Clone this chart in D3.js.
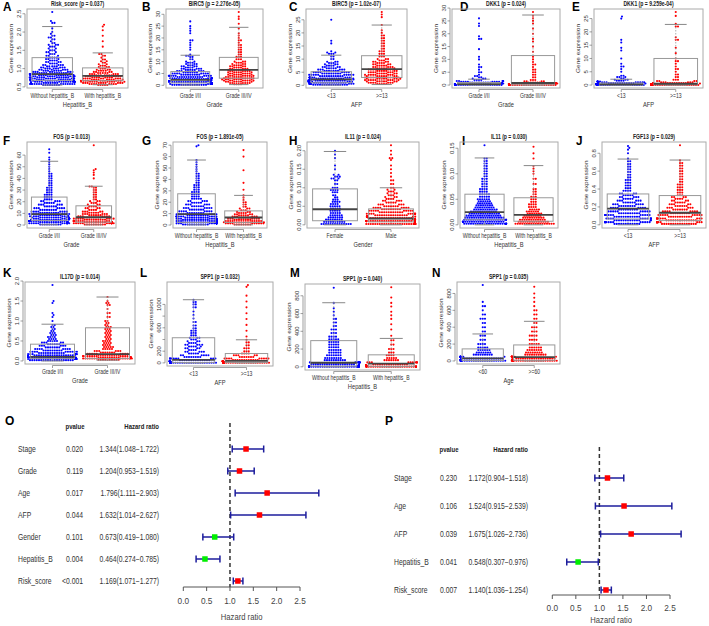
<!DOCTYPE html>
<html><head><meta charset="utf-8">
<script src="https://cdn.jsdelivr.net/npm/d3@7"></script>
<style>body{margin:0;background:#fff}svg{display:block}</style>
</head><body>
<script>
// ---------------- DATA ----------------
const panelIds = ["A","B","C","D","E","F","G","H","I","J","K","L","M","N"];
const panelTitles = ["Risk_score (p = 0.037)","BIRC5 (p = 2.276e-05)","BIRC5 (p = 1.02e-07)","DKK1 (p = 0.024)","DKK1 (p = 9.259e-04)",
  "FOS (p = 0.013)","FOS (p = 1.891e-05)","IL11 (p = 0.024)","IL11 (p = 0.030)","FGF13 (p = 0.029)",
  "IL17D (p = 0.014)","SPP1 (p = 0.032)","SPP1 (p = 0.040)","SPP1 (p = 0.035)"];
const panelXLabels = ["Hepatitis_B","Grade","AFP","Grade","AFP","Grade","Hepatitis_B","Gender","Hepatitis_B","AFP","Grade","AFP","Hepatitis_B","Age"];
const HB = ["Without hepatitis_B","With hepatitis_B"], GR = ["Grade I/II","Grade III/IV"], AF = ["<13",">=13"];
const panelGroups = [HB,GR,AF,GR,AF,GR,HB,["Female","Male"],HB,AF,GR,AF,HB,["<60",">=60"]];
const panelYTicks = [[0.5,1,1.5,2,2.5],[0,5,10,15,20,25,30],[0,5,10,15,20,25],[0,5,10,15,20,25,30],[0,5,10,15,20,25],
  [0,10,20,30,40,50,60],[0,10,20,30,40,50,60,70],[0,0.05,0.1,0.15,0.2],[0,0.05,0.1,0.15],[0,0.2,0.4,0.6,0.8],
  [0,0.5,1,1.5,2],[0,200,400,600,800,1000],[0,200,400,600,800],[0,200,400,600,800]];
// tick labels that R drew (some are dropped where they would overlap)
const panelYTickLabels = [null,null,null,null,null,null,null,null,null,null,null,[0,200,600,1000],null,null];
const panelYFormat = [".1f","d","d","d","d","d","d",".2f",".2f",".1f",".1f","d","d","d"];
// box stats per group: [lower whisker, q1, median, q3, upper whisker]
const panelBoxStats = [
  [[0.55,0.68,0.85,1.3,2.15],[0.56,0.67,0.8,1.02,1.43]],
  [[0.1,1.0,2.3,5.8,12.7],[0.3,3.0,6.5,11.8,24.5]],
  [[0.1,1.0,2.3,5.2,11.5],[0.3,3.0,6.2,11.3,23]],
  [[0,0.1,0.35,1.0,2.3],[0,0.1,0.8,11.5,27.3]],
  [[0,0.05,0.3,0.8,2.2],[0,0.1,0.5,10,22.8]],
  [[0.3,4,9.3,24,54.7],[0.2,2.5,6.7,16.5,33.3]],
  [[0.2,2.3,9.5,27.4,57],[0.2,2.3,6.6,12.4,26]],
  [[0,0.011,0.042,0.097,0.198],[0,0.008,0.017,0.043,0.1]],
  [[0,0.01,0.025,0.06,0.131],[0,0.007,0.0196,0.053,0.116]],
  [[0,0.065,0.18,0.345,0.735],[0,0.047,0.135,0.327,0.724]],
  [[0,0.06,0.1,0.42,0.92],[0.02,0.06,0.17,0.83,1.6]],
  [[0,5,50,430,1080],[0,5,35,160,395]],
  [[0,7,46,295,722],[0,5,36,135,320]],
  [[0,5,30,143,320],[0,8,45,190,470]]
];
// dot values as [value, count]
const A_blue=[[0.55,8],[0.58,14],[0.61,18],[0.64,18],[0.67,16],[0.70,14],[0.73,12],[0.76,12],[0.79,12],[0.82,14],[0.85,14],[0.88,10],[0.91,8],[0.94,7],[0.97,6],[1.0,6],[1.03,5],[1.06,5],[1.1,5],[1.14,4],[1.18,4],[1.22,4],[1.26,3],[1.3,4],[1.35,3],[1.4,3],[1.45,3],[1.5,3],[1.55,2],[1.6,3],[1.65,3],[1.7,2],[1.75,1],[1.8,2],[1.85,2],[1.9,2],[1.95,1],[2.0,1],[2.1,1],[2.25,2],[2.3,1],[2.55,1]];
const A_red=[[0.55,5],[0.58,8],[0.61,10],[0.64,10],[0.67,10],[0.70,9],[0.73,9],[0.76,8],[0.79,8],[0.82,7],[0.85,6],[0.88,5],[0.91,4],[0.94,4],[0.97,3],[1.0,3],[1.04,3],[1.08,3],[1.12,2],[1.16,2],[1.2,2],[1.25,2],[1.3,1],[1.35,2],[1.4,2],[1.6,1],[1.75,1],[1.9,1],[2.05,1],[2.15,1],[2.2,1]];
const B_blue=[[0.2,16],[0.6,20],[1.0,22],[1.4,20],[1.8,18],[2.2,16],[2.6,14],[3.0,12],[3.5,12],[4,10],[4.5,9],[5,8],[5.5,7],[6,6],[6.5,5],[7,5],[7.5,4],[8,4],[8.5,3],[9,3],[9.5,3],[10,2],[11,2],[12,2],[12.5,2],[13,1],[15,1],[16,1],[17,1],[18,1],[19,2],[22,1],[23,1],[24,1],[25,1],[27,1]];
const B_red=[[0.5,4],[1,6],[1.5,7],[2,8],[2.5,8],[3,8],[3.5,7],[4,7],[4.5,6],[5,6],[5.5,6],[6,6],[6.5,5],[7,5],[7.5,4],[8,4],[8.5,4],[9,3],[9.5,3],[10,3],[11,3],[12,3],[13,2],[14,2],[15,2],[16,2],[17,2],[18,1],[19,2],[20,1],[21,1],[22,1],[24,1],[26,1],[28,1],[29,1],[31,1]];
const C_blue=[[0.2,16],[0.6,20],[1.0,22],[1.4,20],[1.8,18],[2.2,16],[2.6,14],[3,12],[3.5,11],[4,10],[4.5,9],[5,8],[5.5,7],[6,6],[6.5,5],[7,4],[7.5,4],[8,3],[8.5,3],[9,3],[10,2],[11,2],[12,3],[12.5,2],[13,1],[16,1],[17,1],[25,1]];
const C_red=[[0.5,5],[1,7],[1.5,8],[2,9],[2.5,9],[3,9],[3.5,8],[4,8],[4.5,7],[5,7],[5.5,7],[6,7],[6.5,6],[7,5],[7.5,5],[8,4],[8.5,4],[9,4],[9.5,3],[10,3],[11,3],[12,3],[13,3],[14,2],[15,2],[16,2],[17,2],[18,2],[19,2],[20,1],[21,1],[23,1],[26,1],[27,1],[28,1]];
const D_blue=[[0.05,40],[0.2,40],[0.4,30],[0.6,20],[0.8,14],[1,10],[1.3,8],[1.6,6],[2,4],[2.5,3],[3,2],[3.5,2],[4,1],[5,2],[6,1],[7,2],[8,1],[10,1],[11,1],[14,1],[18,2],[19,1],[23,1],[24,1],[26,1]];
const D_red=[[0.05,25],[0.2,25],[0.4,18],[0.6,12],[0.8,8],[1,6],[1.5,4],[2,3],[3,2],[4,2],[5,2],[6,2],[7,1],[8,2],[9,1],[10,1],[11,1],[13,1],[15,1],[17,1],[18,1],[20,1],[22,1],[24,1],[25,1],[26,1],[27,1],[28.5,1]];
const E_blue=[[0.05,40],[0.2,40],[0.4,28],[0.6,18],[0.8,12],[1,8],[1.3,6],[1.6,4],[2,3],[2.5,2],[3,3],[3.5,2],[5,1],[6,1],[7,2],[8,1],[10,1],[13,1],[14,1],[16,1],[17,1],[25,1],[25.8,1]];
const E_red=[[0.05,30],[0.2,30],[0.4,20],[0.6,14],[0.8,9],[1,6],[1.5,4],[2,3],[3,2],[4,2],[5,1],[6,2],[7,1],[8,1],[9,2],[10,1],[12,1],[14,1],[17,2],[18,1],[22,2],[23,1],[26,1],[27.5,1]];
const F_blue=[[0.5,10],[1.5,14],[2.5,16],[3.5,16],[4.5,14],[5.5,13],[6.5,12],[7.5,11],[8.5,10],[9.5,10],[10.5,9],[11.5,8],[13,8],[14.5,7],[16,6],[17.5,6],[19,5],[20.5,5],[22,4],[24,4],[26,4],[28,3],[30,3],[32,3],[34,2],[36,2],[38,2],[40,2],[42,2],[44,2],[46,1],[48,1],[50,1],[52,1],[54,1],[56,1],[58,1],[62,1],[65,1]];
const F_red=[[0.5,10],[1.5,14],[2.5,14],[3.5,12],[4.5,10],[5.5,9],[6.5,8],[7.5,7],[8.5,6],[9.5,6],[10.5,5],[11.5,5],[13,4],[14.5,4],[16,4],[17.5,3],[19,3],[20.5,3],[22,2],[24,2],[26,2],[28,2],[30,2],[32,2],[33,2],[40,1],[43,1],[45,1],[47,1],[48,1],[68.5,1]];
const G_blue=[[0.5,12],[1.5,16],[2.5,16],[3.5,15],[4.5,13],[5.5,12],[6.5,11],[7.5,10],[8.5,10],[9.5,9],[10.5,8],[12,8],[13.5,7],[15,7],[16.5,6],[18,6],[19.5,5],[21,5],[23,5],[25,4],[27,4],[29,4],[31,3],[33,3],[35,3],[37,2],[39,2],[41,2],[43,2],[45,2],[47,1],[49,1],[51,1],[53,1],[55,1],[57,1],[69,1],[70,1]];
const G_red=[[0.5,8],[1.5,10],[2.5,10],[3.5,9],[4.5,8],[5.5,7],[6.5,6],[7.5,6],[8.5,5],[9.5,4],[10.5,4],[11.5,3],[13,3],[14.5,3],[16,2],[18,2],[20,2],[22,1],[24,1],[26,1],[31,1],[37,1],[48,1],[60,1],[65.7,1]];
const H_blue=[[0.002,14],[0.008,10],[0.014,8],[0.02,7],[0.026,6],[0.032,5],[0.038,5],[0.044,5],[0.05,5],[0.056,4],[0.062,4],[0.068,3],[0.074,2],[0.08,2],[0.088,3],[0.094,4],[0.1,3],[0.11,2],[0.12,2],[0.125,3],[0.13,3],[0.135,2],[0.15,1],[0.16,1],[0.18,1],[0.19,1],[0.2,1]];
const H_red=[[0.002,30],[0.006,28],[0.01,26],[0.014,22],[0.018,20],[0.022,18],[0.026,15],[0.03,13],[0.034,11],[0.038,10],[0.042,9],[0.046,8],[0.05,7],[0.055,6],[0.06,5],[0.065,5],[0.07,4],[0.075,3],[0.08,3],[0.085,3],[0.09,3],[0.095,2],[0.1,2],[0.11,2],[0.12,2],[0.13,1],[0.14,1],[0.15,1],[0.16,1],[0.175,1],[0.18,2],[0.19,1],[0.2,1],[0.215,1]];
const I_blue=[[0.002,28],[0.006,24],[0.01,22],[0.014,18],[0.018,16],[0.022,14],[0.026,12],[0.03,11],[0.034,9],[0.038,8],[0.042,7],[0.046,6],[0.05,6],[0.055,5],[0.06,5],[0.065,4],[0.07,4],[0.075,3],[0.08,3],[0.085,3],[0.09,3],[0.095,2],[0.1,2],[0.105,2],[0.11,2],[0.115,2],[0.12,2],[0.125,2],[0.13,2],[0.156,1]];
const I_red=[[0.002,18],[0.006,14],[0.01,12],[0.014,10],[0.018,8],[0.022,7],[0.026,6],[0.03,5],[0.035,4],[0.04,4],[0.045,3],[0.05,3],[0.055,3],[0.06,2],[0.065,2],[0.07,2],[0.08,2],[0.09,2],[0.1,1],[0.105,1],[0.11,1],[0.115,1],[0.13,1],[0.14,1],[0.153,1]];
const J_blue=[[0.01,12],[0.03,14],[0.05,14],[0.07,12],[0.09,12],[0.11,11],[0.13,10],[0.15,10],[0.17,9],[0.19,8],[0.21,8],[0.23,7],[0.25,6],[0.27,6],[0.29,5],[0.31,5],[0.33,5],[0.35,4],[0.38,4],[0.41,3],[0.44,3],[0.47,3],[0.5,3],[0.53,2],[0.56,2],[0.59,2],[0.62,2],[0.65,2],[0.68,2],[0.71,2],[0.74,1],[0.8,1],[0.84,1],[0.86,1],[0.88,1]];
const J_red=[[0.01,16],[0.03,16],[0.05,14],[0.07,12],[0.09,11],[0.11,10],[0.13,9],[0.15,8],[0.17,7],[0.19,6],[0.21,6],[0.23,5],[0.25,5],[0.27,4],[0.29,4],[0.31,4],[0.33,3],[0.36,3],[0.39,3],[0.42,3],[0.45,3],[0.48,2],[0.51,2],[0.54,2],[0.57,2],[0.6,2],[0.63,2],[0.66,2],[0.69,2],[0.72,1],[0.89,1]];
const K_blue=[[0.02,20],[0.05,26],[0.08,26],[0.11,22],[0.14,18],[0.17,15],[0.2,12],[0.23,10],[0.26,9],[0.3,8],[0.34,7],[0.38,6],[0.42,6],[0.46,5],[0.5,5],[0.55,4],[0.6,4],[0.65,3],[0.7,3],[0.75,2],[0.8,2],[0.85,2],[0.9,2],[1.0,1],[1.1,1],[1.15,1],[1.2,1],[1.45,1],[1.5,1],[1.9,1]];
const K_red=[[0.03,10],[0.06,14],[0.09,14],[0.12,12],[0.15,10],[0.18,9],[0.21,7],[0.25,6],[0.3,5],[0.35,5],[0.4,4],[0.45,4],[0.5,4],[0.55,3],[0.6,3],[0.65,3],[0.7,3],[0.75,3],[0.8,3],[0.85,3],[0.9,2],[0.95,2],[1.0,2],[1.1,2],[1.2,2],[1.3,1],[1.4,2],[1.45,2],[1.5,1],[1.6,1]];
const L_blue=[[2,40],[15,30],[30,20],[50,14],[75,10],[100,8],[130,6],[160,5],[190,5],[220,4],[250,4],[280,5],[310,5],[340,4],[370,3],[400,3],[430,3],[470,3],[510,3],[550,3],[590,2],[640,2],[700,2],[760,1],[820,1],[880,1],[950,2],[1000,2],[1040,2],[1080,1]];
const L_red=[[2,40],[15,30],[30,20],[50,12],[75,9],[100,7],[130,5],[160,4],[200,3],[250,3],[300,2],[350,2],[395,1],[450,1],[550,1],[650,1],[750,1],[850,1],[950,1],[1050,1],[1150,1],[1300,1],[1330,1]];
const M_blue=[[2,45],[15,30],[30,20],[50,14],[75,10],[100,8],[130,7],[160,6],[190,6],[220,5],[250,5],[280,5],[310,5],[340,4],[380,3],[420,3],[460,2],[500,2],[540,2],[580,1],[620,1],[660,1],[720,1],[890,1]];
const M_red=[[2,30],[15,22],[30,16],[50,10],[75,7],[100,5],[130,4],[160,3],[200,3],[250,2],[300,2],[350,1],[420,1],[480,1],[540,1],[580,1],[620,1],[680,1],[720,1],[780,1],[897,1]];
const N_blue=[[2,35],[15,25],[30,18],[50,12],[75,9],[100,7],[130,6],[160,5],[200,4],[250,3],[300,3],[350,2],[400,2],[450,2],[500,3],[550,2],[600,1],[650,2],[700,1],[900,1]];
const N_red=[[2,30],[15,25],[30,18],[50,14],[75,10],[100,8],[130,7],[160,6],[200,5],[250,4],[300,4],[350,3],[400,3],[450,2],[500,2],[550,2],[600,2],[650,1],[700,1],[750,1],[800,1],[880,1]];
const panelDots = [[A_blue,A_red],[B_blue,B_red],[C_blue,C_red],[D_blue,D_red],[E_blue,E_red],[F_blue,F_red],[G_blue,G_red],
  [H_blue,H_red],[I_blue,I_red],[J_blue,J_red],[K_blue,K_red],[L_blue,L_red],[M_blue,M_red],[N_blue,N_red]];

// Forest plot O (univariate) and P (multivariate)
const O_vars = ["Stage","Grade","Age","AFP","Gender","Hepatitis_B","Risk_score"];
const O_pval = ["0.020","0.119","0.017","0.044","0.101","0.004","<0.001"];
const O_hr   = [1.344,1.204,1.796,1.632,0.673,0.464,1.169];
const O_lo   = [1.048,0.953,1.111,1.014,0.419,0.274,1.071];
const O_hi   = [1.722,1.519,2.903,2.627,1.080,0.785,1.277];
const P_vars = ["Stage","Age","AFP","Hepatitis_B","Risk_score"];
const P_pval = ["0.230","0.106","0.039","0.041","0.007"];
const P_hr   = [1.172,1.524,1.675,0.548,1.140];
const P_lo   = [0.904,0.915,1.026,0.307,1.036];
const P_hi   = [1.518,2.539,2.736,0.976,1.254];
const hrTicks = [0,0.5,1,1.5,2,2.5];

// ---------------- LAYOUT ----------------
const W = 709, H = 626;
const FONT = "'Liberation Sans', Arial, Helvetica, sans-serif";
const frames = [
 [27,128,9,88],[166,263,9,88],[306,407,9,88],[452,560,9,88],[594,703,9,88],
 [27,116,142,228],[173,267,142,228],[307,419,142,228],[460,558,142,228],[602,706,142,228],
 [25,135,282,364],[167,273,282,366],[305,420,284,370],[457,560,282,364]];
const letterPos = [[3,11],[142,11],[289,11],[460,11],[572,11],[3,145],[142,145],[289,145],[462,145],[576,145],[3,277],[140,277],[290,277],[432,277]];
const COL = ["#0000ff","#ff0000"];

const svg = d3.select("body").append("svg").attr("width",W).attr("height",H)
  .style("font-family",FONT);

function T(g,x,y,s,o={}){
  const sx = o.sx ?? 1;
  let tr = `translate(${x},${y}) scale(${sx},1)` + (o.rot ? ` rotate(${o.rot})` : "");
  return g.append("text").attr("transform",tr)
    .attr("text-anchor",o.anchor||"middle")
    .attr("font-size",o.size||7).attr("font-weight",o.weight||"normal")
    .attr("fill",o.fill||"#333").text(s);
}

function expand(pairs){ const out=[]; pairs.forEach(([v,c])=>{for(let i=0;i<c;i++) out.push(v);}); return out; }

function swarm(vals, y, d, maxHalf){
  const pts = vals.map(v=>({v, y:y(v)})).sort((a,b)=>b.y-a.y);
  const placed=[];
  for(const p of pts){
    const near=[];
    for(let i=placed.length-1;i>=0;i--){
      const q=placed[i]; const dy=Math.abs(q.y-p.y);
      if(dy>=d) break;
      near.push([q.x, Math.sqrt(d*d-dy*dy)]);
    }
    const cands=[0]; near.forEach(([x,o])=>{cands.push(x+o,x-o);});
    cands.sort((a,b)=>Math.abs(a)-Math.abs(b));
    let ch=0;
    for(const c of cands){ if(near.every(([x,o])=>Math.abs(x-c)>=o-1e-6)){ch=c;break;} }
    if(Math.abs(ch)>maxHalf){ const w=2*maxHalf; ch=(((ch+maxHalf)%w)+w)%w-maxHalf; }
    p.x=ch; placed.push(p);
  }
  return pts;
}

// ---------------- BEESWARM PANELS ----------------
panelIds.forEach((id,i)=>{
  const [x0,x1,y0,y1]=frames[i];
  const g=svg.append("g");
  const groups = panelDots[i].map(expand);
  const allv = groups.flat().concat(panelBoxStats[i].flat());
  const lo=d3.min(allv), hi=d3.max(allv), pad=(hi-lo)*0.04;
  const y=d3.scaleLinear().domain([lo-pad,hi+pad]).range([y1,y0]);
  const x=d3.scaleLinear().domain([0.5,2.5]).range([x0,x1]);
  const unit = x(2)-x(1);

  // letter + title
  T(g,letterPos[i][0],letterPos[i][1],id,{size:13,weight:"bold",anchor:"start",fill:"#000",sx:0.9});
  T(g,(x0+x1)/2,y0-3.5,panelTitles[i],{size:6.5,weight:"bold",sx:0.78,fill:"#222"});

  // dots
  groups.forEach((vals,gi)=>{
    const pts=swarm(vals,y,2.25,unit*0.45);
    g.append("g").selectAll("circle").data(pts).join("circle")
      .attr("cx",d=>x(gi+1)+d.x).attr("cy",d=>d.y).attr("r",1.05).attr("fill",COL[gi]);
  });

  // boxes
  panelBoxStats[i].forEach((s,gi)=>{
    const cx=x(gi+1), bw=unit*0.4, cw=unit*0.2;
    const [wl,q1,md,q3,wh]=s;
    g.append("line").attr("x1",cx).attr("x2",cx).attr("y1",y(q3)).attr("y2",y(wh)).attr("stroke","#999").attr("stroke-width",0.8).attr("stroke-dasharray","1.5,1.5");
    g.append("line").attr("x1",cx).attr("x2",cx).attr("y1",y(q1)).attr("y2",y(wl)).attr("stroke","#999").attr("stroke-width",0.8).attr("stroke-dasharray","1.5,1.5");
    g.append("line").attr("x1",cx-cw).attr("x2",cx+cw).attr("y1",y(wh)).attr("y2",y(wh)).attr("stroke","#888").attr("stroke-width",1);
    g.append("line").attr("x1",cx-cw).attr("x2",cx+cw).attr("y1",y(wl)).attr("y2",y(wl)).attr("stroke","#888").attr("stroke-width",1);
    g.append("rect").attr("x",cx-bw).attr("y",y(q3)).attr("width",2*bw).attr("height",y(q1)-y(q3)).attr("fill","none").attr("stroke","#999").attr("stroke-width",1);
    g.append("line").attr("x1",cx-bw).attr("x2",cx+bw).attr("y1",y(md)).attr("y2",y(md)).attr("stroke","#444").attr("stroke-width",1.8);
  });

  // frame
  g.append("rect").attr("x",x0).attr("y",y0).attr("width",x1-x0).attr("height",y1-y0).attr("fill","none").attr("stroke","#aaa").attr("stroke-width",1);

  // y axis
  const fmt=d3.format(panelYFormat[i]);
  const tks=panelYTicks[i];
  const labs=panelYTickLabels[i]||tks;
  g.append("line").attr("x1",x0-2).attr("x2",x0-2).attr("y1",y(tks[0])).attr("y2",y(tks[tks.length-1])).attr("stroke","#777").attr("stroke-width",0.7);
  tks.forEach(t=>{
    g.append("line").attr("x1",x0-4.5).attr("x2",x0-2).attr("y1",y(t)).attr("y2",y(t)).attr("stroke","#777").attr("stroke-width",0.7);
  });
  labs.forEach(t=>T(g,x0-6,y(t),fmt(t),{size:6,rot:-90,sx:0.8}));
  T(g,x0-14,(y0+y1)/2,"Gene expression",{size:6.5,rot:-90,sx:0.8});

  // x axis
  panelGroups[i].forEach((lab,gi)=>{
    const cx=x(gi+1);
    g.append("line").attr("x1",cx).attr("x2",cx).attr("y1",y1+1.5).attr("y2",y1+4).attr("stroke","#777").attr("stroke-width",0.7);
    T(g,cx,y1+10,lab,{size:6.5,sx:0.78});
  });
  g.append("line").attr("x1",x(1)).attr("x2",x(2)).attr("y1",y1+1.5).attr("y2",y1+1.5).attr("stroke","#777").attr("stroke-width",0.7);
  T(g,(x0+x1)/2,y1+19,panelXLabels[i],{size:7,sx:0.82});
});

// ---------------- FOREST PLOTS ----------------
function forest(cfg){
  const g=svg.append("g");
  T(g,cfg.letter[0],cfg.letter[1],cfg.id,{size:12,weight:"bold",anchor:"start",fill:"#000"});
  T(g,cfg.pX-8,cfg.headY,"pvalue",{size:7.5,weight:"bold",sx:0.8,fill:"#222"});
  T(g,cfg.hrX,cfg.headY,"Hazard ratio",{size:7.5,weight:"bold",anchor:"end",sx:0.8,fill:"#222"});
  const ry=d3.scalePoint().domain(cfg.vars).range(cfg.rowRange);
  const x=d3.scaleLinear().domain([0,2.5]).range(cfg.xRange);
  cfg.vars.forEach((v,k)=>{
    const yy=ry(v)+3;
    T(g,cfg.labX,yy,v,{size:8.5,anchor:"start",sx:0.8,fill:"#333"});
    T(g,cfg.pX,yy,cfg.p[k],{size:8.5,anchor:"end",sx:0.8,fill:"#333"});
    T(g,cfg.hrX,yy,`${cfg.hr[k].toFixed(3)}(${cfg.lo[k].toFixed(3)}\u2212${cfg.hi[k].toFixed(3)})`,{size:8.5,anchor:"end",sx:0.8,fill:"#333"});
  });
  g.append("line").attr("x1",x(1)).attr("x2",x(1)).attr("y1",cfg.dashTop).attr("y2",cfg.axisY)
    .attr("stroke","#333").attr("stroke-width",1.5).attr("stroke-dasharray","4,3");
  cfg.vars.forEach((v,k)=>{
    const yy=ry(v);
    g.append("line").attr("x1",x(cfg.lo[k])).attr("x2",x(cfg.hi[k])).attr("y1",yy).attr("y2",yy).attr("stroke","#1c1c9c").attr("stroke-width",1.5);
    [cfg.lo[k],cfg.hi[k]].forEach(e=>g.append("line").attr("x1",x(e)).attr("x2",x(e)).attr("y1",yy-3.5).attr("y2",yy+3.5).attr("stroke","#1c1c9c").attr("stroke-width",1.5));
    const s=5.5;
    g.append("rect").attr("x",x(cfg.hr[k])-s/2).attr("y",yy-s/2).attr("width",s).attr("height",s)
      .attr("fill",cfg.hr[k]>1?"#ff0000":"#00ee00");
  });
  g.append("line").attr("x1",x(0)).attr("x2",x(2.5)).attr("y1",cfg.axisY).attr("y2",cfg.axisY).attr("stroke","#555").attr("stroke-width",1);
  hrTicks.forEach(t=>{
    g.append("line").attr("x1",x(t)).attr("x2",x(t)).attr("y1",cfg.axisY).attr("y2",cfg.axisY+4).attr("stroke","#555").attr("stroke-width",1);
    T(g,x(t),cfg.axisY+cfg.tickDy,t.toFixed(1),{size:9,sx:0.92,fill:"#444"});
  });
  T(g,(x(0)+x(2.5))/2,cfg.axisY+cfg.titleDy,"Hazard ratio",{size:8.5,sx:0.9,fill:"#444"});
}
forest({id:"O",letter:[5,425],vars:O_vars,p:O_pval,hr:O_hr,lo:O_lo,hi:O_hi,headY:429,labX:18,pX:83,hrX:159,
  rowRange:[449,581],xRange:[183.3,300],axisY:587,dashTop:423,tickDy:17,titleDy:33});
forest({id:"P",letter:[385,425],vars:P_vars,p:P_pval,hr:P_hr,lo:P_lo,hi:P_hi,headY:452,labX:394,pX:457,hrX:528,
  rowRange:[478,590],xRange:[552.3,670],axisY:595,dashTop:447,tickDy:16,titleDy:28});
</script>
</body></html>
